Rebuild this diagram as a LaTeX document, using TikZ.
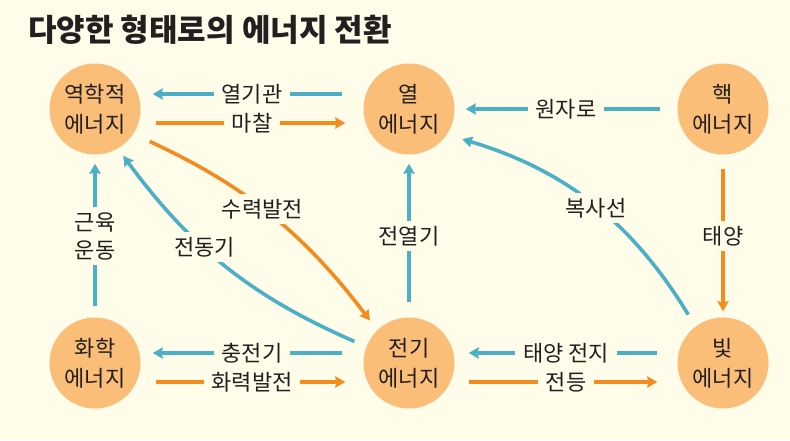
\documentclass[tikz,border=0pt]{standalone}
\usepackage{fontspec}
\setmainfont{Noto Sans CJK KR}
\usetikzlibrary{arrows.meta}
\definecolor{paper}{RGB}{255,252,233}
\definecolor{ball}{RGB}{251,190,121}
\definecolor{cyanline}{RGB}{75,175,198}
\definecolor{orangeline}{RGB}{243,140,30}
\definecolor{ink}{RGB}{35,31,32}

\begin{document}
\begin{tikzpicture}[x=1pt,y=-1pt,
  energy/.style={circle,fill=ball,minimum size=91pt,inner sep=0pt,align=center,text=ink,font=\fontsize{22}{30}\selectfont},
  blueflow/.style={cyanline,line width=3.6pt,-{Stealth[length=10pt,width=11pt,inset=1pt]}},
  orangeflow/.style={orangeline,line width=3.6pt,-{Stealth[length=10pt,width=11pt,inset=1pt]}},
  tag/.style={fill=paper,text=ink,inner xsep=8pt,inner ysep=5pt,align=center,font=\fontsize{22}{28}\selectfont}]
  \fill[paper] (0,0) rectangle (790,440);
  \node[anchor=west,inner sep=0pt,text=ink,font=\fontsize{31}{36}\selectfont\bfseries] (title) at (28,30) {다양한 형태로의 에너지 전환};

  % energy forms
  \node[energy] (mech) at (95,109) {역학적\\에너지};
  \node[energy] (heat) at (409,109) {열\\에너지};
  \node[energy] (nuc) at (723,109) {핵\\에너지};
  \node[energy] (chem) at (95,363) {화학\\에너지};
  \node[energy] (elec) at (409,363) {전기\\에너지};
  \node[energy] (light) at (723,363) {빛\\에너지};

  % straight conversions
  \draw[blueflow,shorten <=21pt,shorten >=12pt] ([yshift=15pt]heat.west) -- node[tag]{열기관} ([yshift=15pt]mech.east);
  \draw[orangeflow,shorten <=15pt,shorten >=18pt] ([yshift=-14pt]mech.east) -- node[tag]{마찰} ([yshift=-14pt]heat.west);
  \draw[blueflow,shorten <=17pt,shorten >=11pt] (nuc) -- node[tag]{원자로} (heat);
  \draw[orangeflow,shorten <=14pt,shorten >=6pt] (nuc) -- node[tag]{태양} (light);
  \draw[blueflow,shorten <=15pt,shorten >=9pt] (elec) -- node[tag]{전열기} (heat);
  \draw[blueflow,shorten <=11pt,shorten >=9pt] (chem) -- node[tag]{근육\\운동} (mech);
  \draw[blueflow,shorten <=21pt,shorten >=12pt] ([yshift=10pt]elec.west) -- node[tag]{충전기} ([yshift=10pt]chem.east);
  \draw[orangeflow,shorten <=15pt,shorten >=18pt] ([yshift=-19pt]chem.east) -- node[tag]{화력발전} ([yshift=-19pt]elec.west);
  \draw[blueflow,shorten <=20pt,shorten >=14pt] ([yshift=10pt]light.west) -- node[tag]{태양 전지} ([yshift=10pt]elec.east);
  \draw[orangeflow,shorten <=14pt,shorten >=20pt] ([yshift=-19pt]elec.east) -- node[tag]{전등} ([yshift=-19pt]light.west);

  % curved conversions
  \draw[orangeflow,shorten <=18pt,shorten >=12pt] (mech.-33) to[bend left=14] node[tag,pos=.47]{수력발전} (elec.134);
  \draw[blueflow,shorten <=13pt,shorten >=9pt] (elec.159) to[bend left=15] node[tag,pos=.6]{전동기} (mech.-60);
  \draw[blueflow,shorten <=14pt,shorten >=16pt] (light.127) to[bend right=21] node[tag,pos=.48]{복사선} (heat.-34);
\end{tikzpicture}
\end{document}
